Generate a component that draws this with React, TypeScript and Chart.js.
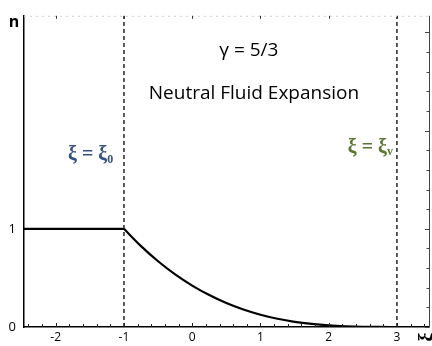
import React, { useEffect, useRef } from "react";
import { Chart, registerables } from "chart.js";

Chart.register(...registerables);

// ---- data ----
const X_MIN = -2.465;
const X_MAX = 3.47;
const Y_MIN = 0;
const Y_MAX = 3.17;

const xTickValues = [-2, -1, 0, 1, 2, 3];
const yTickValues = [0, 1];

const xiFlat = [X_MIN, -1];
const nFlat = [1, 1];

const xiCurve = [-1, -0.75, -0.5, -0.25, 0, 0.25, 0.5, 0.75, 1, 1.25, 1.5, 1.75, 2, 2.25, 2.5, 2.75, 3];
const nCurve = [1, 0.824, 0.67, 0.536, 0.422, 0.325, 0.244, 0.178, 0.125, 0.084, 0.053, 0.031, 0.016, 0.007, 0.002, 0.0003, 0];

const xi0 = -1;
const xiV = 3;

const gammaLabel = "γ = 5/3";
const titleLabel = "Neutral Fluid Expansion";
const yAxisLabel = "n";
const xAxisLabel = "ξ";
const xi0Label = { main: "ξ = ξ", sub: "0", color: "#34537f", xi: -1.82, n: 1.75 };
const xiVLabel = { main: "ξ = ξ", sub: "v", color: "#5b7532", xi: 2.28, n: 1.83 };

const SANS = "'Open Sans', Lato, sans-serif";
const SERIF = "'Liberation Serif', 'DejaVu Serif', serif";

const decorPlugin = {
  id: "decor",
  afterDraw(chart: any) {
    const { ctx, chartArea, scales } = chart;
    const xs = scales.x;
    const ys = scales.y;
    const { left, right, top, bottom } = chartArea;
    ctx.save();

    // top dotted frame line
    ctx.strokeStyle = "#cfcfcf";
    ctx.lineWidth = 1;
    ctx.setLineDash([2, 4]);
    ctx.beginPath();
    ctx.moveTo(left, top + 0.5);
    ctx.lineTo(right, top + 0.5);
    ctx.stroke();
    ctx.setLineDash([]);

    // top integer ticks
    ctx.strokeStyle = "#333";
    for (const v of xTickValues) {
      const px = Math.round(xs.getPixelForValue(v)) + 0.5;
      ctx.beginPath();
      ctx.moveTo(px, top);
      ctx.lineTo(px, top + 3);
      ctx.stroke();
    }

    // right axis line
    ctx.strokeStyle = "#444";
    ctx.beginPath();
    ctx.moveTo(right + 0.5, top);
    ctx.lineTo(right + 0.5, bottom);
    ctx.stroke();
    for (let i = 0; i * 0.2 <= Y_MAX + 1e-9; i++) {
      const v = i * 0.2;
      const py = Math.round(ys.getPixelForValue(v)) + 0.5;
      const len = i % 5 === 0 ? 4 : 2.5;
      ctx.beginPath();
      ctx.moveTo(right, py);
      ctx.lineTo(right - len, py);
      ctx.stroke();
    }

    // x-axis minor ticks (inward)
    ctx.strokeStyle = "#222";
    for (let i = -12; i <= 17; i++) {
      const v = i * 0.2;
      if (v < X_MIN || v > X_MAX) continue;
      const px = Math.round(xs.getPixelForValue(v)) + 0.5;
      const len = i % 5 === 0 ? 4 : 3;
      ctx.beginPath();
      ctx.moveTo(px, bottom);
      ctx.lineTo(px, bottom - len);
      ctx.stroke();
    }

    // text annotations
    ctx.fillStyle = "#000";
    ctx.textAlign = "center";
    ctx.textBaseline = "middle";
    ctx.font = `19px ${SANS}`;
    ctx.fillText(gammaLabel, xs.getPixelForValue(0.83), ys.getPixelForValue(2.82));
    ctx.font = `19px ${SANS}`;
    ctx.fillText(titleLabel, xs.getPixelForValue(0.905), ys.getPixelForValue(2.376));

    // y axis label
    ctx.font = `bold 16px ${SANS}`;
    ctx.fillText(yAxisLabel, 14, 22);

    // xi labels with subscripts
    for (const lab of [xi0Label, xiVLabel]) {
      const x0 = xs.getPixelForValue(lab.xi);
      const y0 = ys.getPixelForValue(lab.n);
      ctx.fillStyle = lab.color;
      ctx.textAlign = "left";
      ctx.textBaseline = "middle";
      ctx.font = `bold 20px ${SERIF}`;
      ctx.fillText(lab.main, x0, y0);
      const w = ctx.measureText(lab.main).width;
      ctx.font = `bold 12px ${SERIF}`;
      ctx.fillText(lab.sub, x0 + w, y0 + 5);
    }

    // x axis label (rotated, clipped at edge)
    ctx.fillStyle = "#000";
    ctx.font = `bold 20px ${SERIF}`;
    ctx.translate(428, 337);
    ctx.rotate(-Math.PI / 2);
    ctx.textAlign = "center";
    ctx.textBaseline = "middle";
    ctx.fillText(xAxisLabel, 0, 0);

    ctx.restore();
  },
};

export default function App() {
  const ref = useRef<HTMLCanvasElement | null>(null);

  useEffect(() => {
    if (!ref.current) return;
    const flat = xiFlat.map((x, i) => ({ x, y: nFlat[i] }));
    const curve = xiCurve.map((x, i) => ({ x, y: nCurve[i] }));
    const vline = (x: number) => [
      { x, y: Y_MIN },
      { x, y: Y_MAX },
    ];
    const chart = new Chart(ref.current, {
      type: "scatter",
      data: {
        datasets: [
          {
            data: vline(xi0),
            showLine: true,
            borderColor: "#000",
            borderWidth: 1.3,
            borderDash: [4, 3],
            pointRadius: 0,
          },
          {
            data: vline(xiV),
            showLine: true,
            borderColor: "#000",
            borderWidth: 1.3,
            borderDash: [4, 3],
            pointRadius: 0,
          },
          {
            data: flat,
            showLine: true,
            borderColor: "#000",
            borderWidth: 2.2,
            pointRadius: 0,
          },
          {
            data: curve,
            showLine: true,
            borderColor: "#000",
            borderWidth: 2.2,
            pointRadius: 0,
            cubicInterpolationMode: "monotone",
          },
        ],
      } as any,
      options: {
        responsive: false,
        maintainAspectRatio: false,
        animation: false,
        events: [],
        layout: { padding: { top: 7, right: 3, left: 0, bottom: 0 } },
        plugins: {
          legend: { display: false },
          tooltip: { enabled: false },
          title: { display: false },
        },
        scales: {
          x: {
            type: "linear",
            min: X_MIN,
            max: X_MAX,
            afterFit: (s: any) => {
              s.height = 19;
            },
            afterBuildTicks: (s: any) => {
              s.ticks = xTickValues.map((v) => ({ value: v }));
            },
            grid: { display: false, drawTicks: false },
            border: { display: true, color: "#000", width: 1.5 },
            ticks: {
              color: "#000",
              padding: 3,
              maxRotation: 0,
              autoSkip: false,
              font: { family: SANS, size: 12 },
              callback: (v: any) => String(v),
            },
          },
          y: {
            type: "linear",
            min: Y_MIN,
            max: Y_MAX,
            afterFit: (s: any) => {
              s.width = 24;
            },
            afterBuildTicks: (s: any) => {
              s.ticks = yTickValues.map((v) => ({ value: v }));
            },
            grid: { display: false, drawTicks: false },
            border: { display: true, color: "#000", width: 1.5 },
            ticks: {
              color: "#000",
              padding: 8,
              autoSkip: false,
              font: { family: SANS, size: 13 },
              callback: (v: any) => String(v),
            },
          },
        },
      } as any,
      plugins: [decorPlugin],
    });
    return () => chart.destroy();
  }, []);

  return (
    <div style={{ position: "absolute", left: 0, top: 0, width: 432, height: 346, background: "#fff" }}>
      <canvas ref={ref} width={432} height={346} style={{ width: 432, height: 346, display: "block" }} />
    </div>
  );
}
